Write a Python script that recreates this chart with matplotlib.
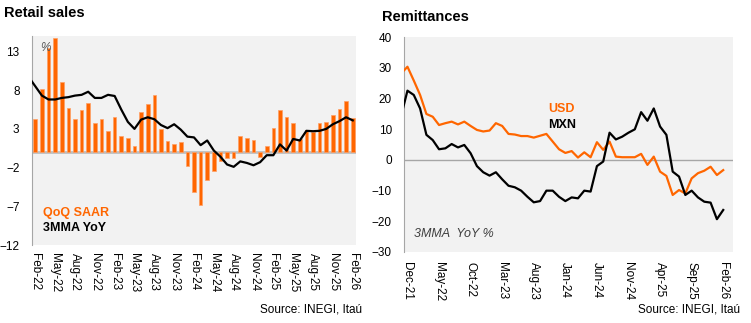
import numpy as np
import matplotlib
matplotlib.use("Agg")
import matplotlib.pyplot as plt

plt.rcParams['font.family'] = ['Liberation Sans', 'DejaVu Sans']

ORANGE = '#FF6600'
GRAYBG = '#F2F2F2'

# retail sales, Feb-22 .. Feb-26
retail_months = ['Feb-22', 'May-22', 'Aug-22', 'Nov-22', 'Feb-23', 'May-23', 'Aug-23', 'Nov-23',
                 'Feb-24', 'May-24', 'Aug-24', 'Nov-24', 'Feb-25', 'May-25', 'Aug-25', 'Nov-25', 'Feb-26']
qoq_saar = [4.25, 8.1, 13.5, 14.8, 9.0, 5.7, 4.3, 5.5, 6.3, 3.7,
            4.25, 2.7, 4.6, 2.06, 1.8, 0.77, 5.2, 6.2, 7.4, 3.0,
            1.4, 1.0, 1.3, -1.8, -5.2, -6.8, -3.6, -2.4, -1.2, -0.8,
            -0.7, 2.1, 1.8, 1.6, -0.6, 0.8, 3.1, 5.5, 4.6, 3.7,
            1.7, 2.8, 2.6, 3.7, 3.9, 4.8, 5.6, 6.6, 4.4]
# 3MMA YoY, Jan-22 .. Feb-26 (Jan-22 is cut off at the axis edge)
mma_yoy = [9.7, 8.5, 7.3, 6.8, 6.8, 7.0, 7.1, 7.3, 7.4, 7.8, 7.0,
           7.0, 7.4, 7.25, 5.5, 3.9, 3.0, 4.2, 4.5, 4.25, 3.5,
           3.1, 3.6, 2.9, 2.0, 1.9, 0.9, 1.5, 0.2, -0.6, -1.6,
           -1.9, -1.2, -1.4, -1.7, -1.3, -0.4, -0.4, 1.0, 0.2, 1.7,
           1.5, 2.75, 2.7, 2.75, 3.0, 3.6, 4.0, 4.5, 4.1]

# remittances, Nov-21 .. Feb-26 (Nov-21 is cut off at the axis edge)
remit_months = ['Dec-21', 'May-22', 'Oct-22', 'Mar-23', 'Aug-23', 'Jan-24',
                'Jun-24', 'Nov-24', 'Apr-25', 'Sep-25', 'Feb-26']
usd = [28.2, 30.4, 25.9, 21.2, 15.0, 14.1, 11.4, 12.0, 12.5, 11.6, 12.5,
       11.1, 9.8, 9.3, 9.6, 12.0, 11.1, 8.5, 8.3, 7.8, 7.8,
       7.3, 7.9, 8.5, 6.0, 3.5, 2.3, 2.9, 0.8, 2.5, 0.9,
       5.8, 3.3, 6.0, 1.1, 0.9, 0.9, 0.9, 2.0, -1.6, 1.1,
       -3.8, -5.2, -11.4, -9.8, -10.9, -6.0, -4.3, -3.5, -2.2, -4.9, -3.3]
mxn = [14.4, 22.6, 21.2, 16.8, 8.2, 6.5, 3.5, 3.8, 5.2, 4.1, 4.9,
       2.2, -2.0, -4.0, -5.1, -4.0, -6.3, -8.4, -8.9, -10.0, -12.0,
       -13.8, -13.4, -10.0, -10.0, -12.0, -13.4, -12.2, -12.5, -10.0, -10.3,
       -2.0, -0.5, 8.9, 6.7, 7.6, 8.9, 10.0, 15.6, 12.8, 16.8,
       10.9, 8.2, -3.8, -5.4, -11.4, -10.0, -12.2, -13.6, -13.9, -19.3, -16.3]

fig = plt.figure(figsize=(7.51, 3.23), dpi=100)

# ---- left panel: retail sales
ax1 = fig.add_axes([32/751, 1-245/323, 324/751, 209/323])
ax1.set_facecolor(GRAYBG)
x = np.arange(len(qoq_saar))
ax1.bar(x, qoq_saar, width=0.55, color=ORANGE, edgecolor='#FFA066', linewidth=0.5, zorder=2)
ax1.axhline(0, color='#BFBFBF', lw=2, zorder=1)
xm = np.arange(len(mma_yoy)) - 1
ax1.plot(xm, mma_yoy, color='black', lw=1.6, zorder=3)
ax1.set_xlim(-0.5, 48.5)
ax1.set_ylim(-12, 15)
ax1.set_yticks([-12, -7, -2, 3, 8, 13])
ax1.set_xticks(np.arange(0, len(qoq_saar), 3))
ax1.set_xticklabels(retail_months, rotation=-90, fontsize=8)
ax1.tick_params(axis='both', length=0, labelsize=8.5)
ax1.tick_params(axis='y', pad=9)
ax1.tick_params(axis='x', pad=6)
for s in ['top', 'right', 'bottom']:
    ax1.spines[s].set_visible(False)
ax1.spines['left'].set_color('#A6A6A6')
ax1.text(0.025, 0.97, '%', transform=ax1.transAxes, fontsize=8.5, style='italic', color='#595959', va='top')
ax1.text(0.035, 0.155, 'QoQ SAAR', transform=ax1.transAxes, fontsize=9, fontweight='bold', color=ORANGE, va='center')
ax1.text(0.035, 0.08, '3MMA YoY', transform=ax1.transAxes, fontsize=9, fontweight='bold', color='black', va='center')
fig.text(4/751, 1-13/323, 'Retail sales', fontsize=10.5, fontweight='bold', va='center')
fig.text(362/751, 1-310/323, 'Source: INEGI, Itaú', fontsize=8.5, ha='right', va='center')

# ---- right panel: remittances
ax2 = fig.add_axes([404.3/751, 1-252/323, 328.4/751, 214.7/323])
ax2.set_facecolor(GRAYBG)
xr = np.arange(len(usd)) - 1
ax2.axhline(0, color='#A6A6A6', lw=1, zorder=1)
ax2.plot(xr, usd, color=ORANGE, lw=1.6, zorder=3)
ax2.plot(xr, mxn, color='black', lw=1.6, zorder=3)
ax2.set_xlim(-0.5, 51.5)
ax2.set_ylim(-30, 40)
ax2.set_yticks(np.arange(-30, 41, 10))
ax2.set_xticks(np.arange(0, 51, 5))
ax2.set_xticklabels(remit_months, rotation=-90, fontsize=8)
ax2.tick_params(axis='both', length=0, labelsize=8.5)
ax2.tick_params(axis='y', pad=9)
ax2.tick_params(axis='x', pad=7)
for s in ['top', 'right', 'bottom']:
    ax2.spines[s].set_visible(False)
ax2.spines['left'].set_color('#A6A6A6')
ax2.text(22.3, 16.5, 'USD', fontsize=9, fontweight='bold', color=ORANGE, va='center')
ax2.text(22.3, 11.5, 'MXN', fontsize=9, fontweight='bold', color='black', va='center')
ax2.text(0.03, 0.085, '3MMA  YoY %', transform=ax2.transAxes, fontsize=9, style='italic', color='#404040', va='center')
fig.text(382/751, 1-17/323, 'Remittances', fontsize=10.5, fontweight='bold', va='center')
fig.text(740/751, 1-310/323, 'Source: INEGI, Itaú', fontsize=8.5, ha='right', va='center')

fig.savefig('out.png', dpi=100, facecolor='white')
